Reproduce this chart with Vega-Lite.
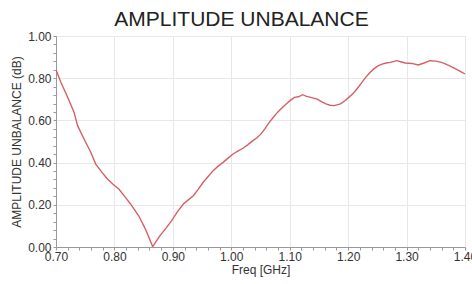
{
  "$schema": "https://vega.github.io/schema/vega-lite/v6.json",
  "autosize": "none",
  "width": 409,
  "height": 211,
  "padding": {"left": 56, "top": 36, "right": 7, "bottom": 37},
  "background": "white",
  "title": {
    "text": "AMPLITUDE UNBALANCE",
    "font": "Liberation Sans",
    "fontSize": 21,
    "fontWeight": "normal",
    "color": "#222222",
    "anchor": "middle",
    "frame": "group",
    "dx": -19,
    "offset": 0
  },
  "config": {
    "view": {"stroke": "#b0b0b0", "strokeWidth": 1},
    "axis": {
      "labelFont": "Liberation Sans",
      "titleFont": "Liberation Sans",
      "labelFontSize": 12,
      "titleFontSize": 12,
      "titleFontWeight": "normal",
      "labelColor": "#333333",
      "titleColor": "#333333",
      "domainColor": "#999999",
      "tickColor": "#999999",
      "gridColor": "#e8e8e8"
    }
  },
  "data": {
    "values": [
      {"f": 0.700, "v": 0.840},
      {"f": 0.7085, "v": 0.780},
      {"f": 0.720, "v": 0.710},
      {"f": 0.731, "v": 0.638},
      {"f": 0.737, "v": 0.575},
      {"f": 0.748, "v": 0.512},
      {"f": 0.7595, "v": 0.449},
      {"f": 0.768, "v": 0.393},
      {"f": 0.778, "v": 0.356},
      {"f": 0.788, "v": 0.322},
      {"f": 0.7975, "v": 0.297},
      {"f": 0.8075, "v": 0.275},
      {"f": 0.8175, "v": 0.240},
      {"f": 0.8275, "v": 0.204},
      {"f": 0.8415, "v": 0.148},
      {"f": 0.853, "v": 0.085},
      {"f": 0.8655, "v": 0.002},
      {"f": 0.878, "v": 0.054},
      {"f": 0.888, "v": 0.088},
      {"f": 0.898, "v": 0.125},
      {"f": 0.908, "v": 0.168},
      {"f": 0.918, "v": 0.204},
      {"f": 0.926, "v": 0.222},
      {"f": 0.935, "v": 0.243},
      {"f": 0.943, "v": 0.272},
      {"f": 0.952, "v": 0.307},
      {"f": 0.960, "v": 0.333},
      {"f": 0.969, "v": 0.362},
      {"f": 0.977, "v": 0.382},
      {"f": 0.986, "v": 0.401},
      {"f": 0.994, "v": 0.420},
      {"f": 1.003, "v": 0.441},
      {"f": 1.011, "v": 0.454},
      {"f": 1.020, "v": 0.468},
      {"f": 1.028, "v": 0.484},
      {"f": 1.037, "v": 0.504},
      {"f": 1.044, "v": 0.518},
      {"f": 1.051, "v": 0.536},
      {"f": 1.058, "v": 0.562},
      {"f": 1.065, "v": 0.591},
      {"f": 1.072, "v": 0.615},
      {"f": 1.079, "v": 0.638},
      {"f": 1.087, "v": 0.660},
      {"f": 1.094, "v": 0.678},
      {"f": 1.101, "v": 0.695},
      {"f": 1.108, "v": 0.709},
      {"f": 1.115, "v": 0.712},
      {"f": 1.122, "v": 0.722},
      {"f": 1.129, "v": 0.714},
      {"f": 1.136, "v": 0.709},
      {"f": 1.147, "v": 0.701},
      {"f": 1.155, "v": 0.688},
      {"f": 1.162, "v": 0.678},
      {"f": 1.169, "v": 0.672},
      {"f": 1.176, "v": 0.670},
      {"f": 1.187, "v": 0.678},
      {"f": 1.194, "v": 0.692},
      {"f": 1.201, "v": 0.709},
      {"f": 1.208, "v": 0.726},
      {"f": 1.215, "v": 0.749},
      {"f": 1.223, "v": 0.778},
      {"f": 1.230, "v": 0.804},
      {"f": 1.237, "v": 0.826},
      {"f": 1.244, "v": 0.844},
      {"f": 1.251, "v": 0.858},
      {"f": 1.258, "v": 0.867},
      {"f": 1.265, "v": 0.872},
      {"f": 1.272, "v": 0.875},
      {"f": 1.283, "v": 0.883},
      {"f": 1.290, "v": 0.878},
      {"f": 1.2975, "v": 0.872},
      {"f": 1.309, "v": 0.870},
      {"f": 1.320, "v": 0.863},
      {"f": 1.330, "v": 0.872},
      {"f": 1.340, "v": 0.883},
      {"f": 1.350, "v": 0.881},
      {"f": 1.360, "v": 0.875},
      {"f": 1.371, "v": 0.862},
      {"f": 1.3825, "v": 0.847},
      {"f": 1.391, "v": 0.834},
      {"f": 1.400, "v": 0.820}
    ]
  },
  "mark": {"type": "line", "color": "#d65f65", "strokeWidth": 1.4, "clip": true},
  "encoding": {
    "x": {
      "field": "f",
      "type": "quantitative",
      "title": "Freq [GHz]",
      "scale": {"domain": [0.7, 1.4], "nice": false, "zero": false},
      "axis": {
        "values": [0.70,0.72,0.74,0.76,0.78,0.80,0.82,0.84,0.86,0.88,0.90,0.92,0.94,0.96,0.98,1.00,1.02,1.04,1.06,1.08,1.10,1.12,1.14,1.16,1.18,1.20,1.22,1.24,1.26,1.28,1.30,1.32,1.34,1.36,1.38,1.40],
        "labelExpr": "round(datum.value*100) % 10 === 0 ? format(datum.value, '.2f') : ''",
        "labelFlush": false,
        "labelOverlap": false,
        "labelPadding": 1,
        "tickSize": 3,
        "titlePadding": 2,
        "gridOpacity": {"condition": {"test": "round(datum.value*100) % 10 === 0", "value": 1}, "value": 0}
      }
    },
    "y": {
      "field": "v",
      "type": "quantitative",
      "title": "AMPLITUDE UNBALANCE (dB)",
      "scale": {"domain": [0, 1], "nice": false},
      "axis": {
        "values": [0,0.04,0.08,0.12,0.16,0.2,0.24,0.28,0.32,0.36,0.4,0.44,0.48,0.52,0.56,0.6,0.64,0.68,0.72,0.76,0.8,0.84,0.88,0.92,0.96,1.0],
        "labelExpr": "round(datum.value*100) % 20 === 0 ? format(datum.value, '.2f') : ''",
        "labelFlush": false,
        "labelOverlap": false,
        "labelPadding": 2,
        "tickSize": 3,
        "titlePadding": 4,
        "gridOpacity": {"condition": {"test": "round(datum.value*100) % 20 === 0", "value": 1}, "value": 0}
      }
    }
  }
}
